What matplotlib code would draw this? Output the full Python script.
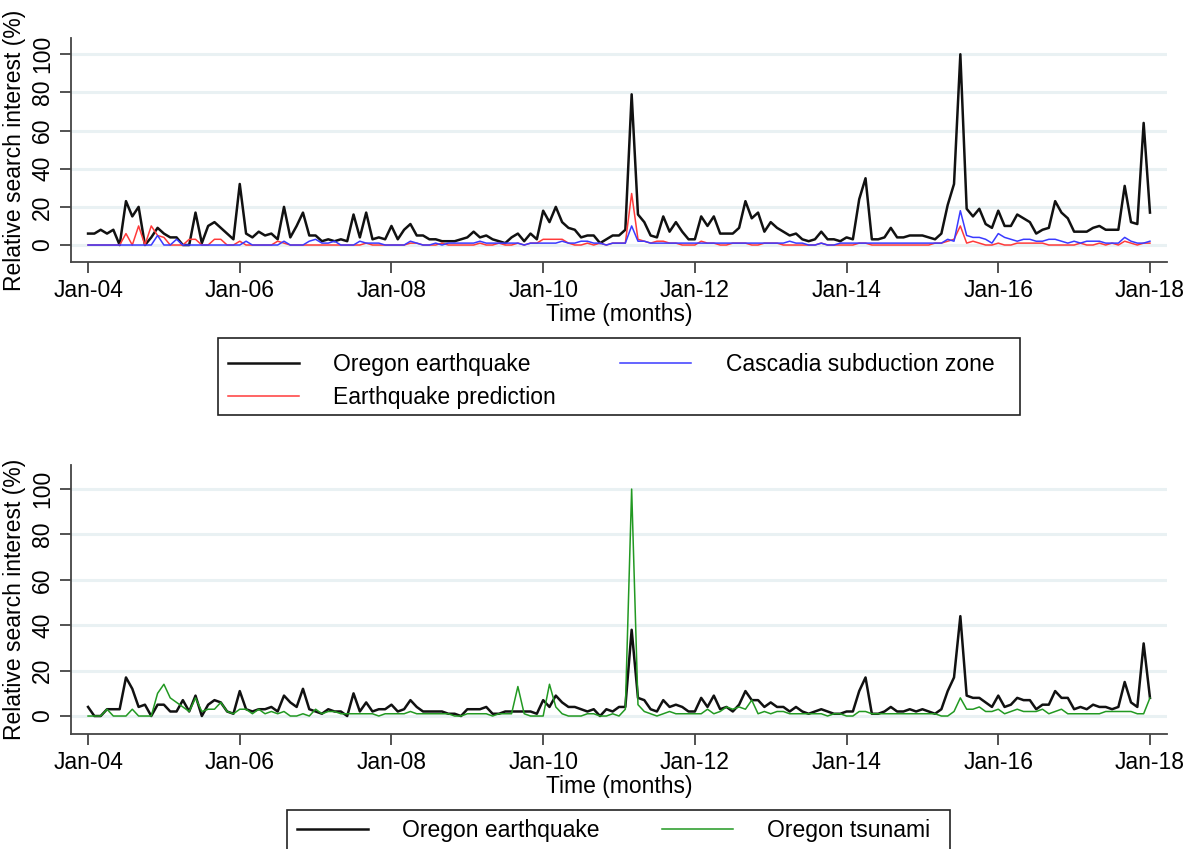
import matplotlib.pyplot as plt
from matplotlib.lines import Line2D
from matplotlib.patches import Rectangle

plt.rcParams['font.family'] = ['Liberation Sans', 'DejaVu Sans']
plt.rcParams['font.size'] = 16.5

# monthly search interest, Jan 2004 .. Jan 2018 (169 months)
months = list(range(169))
tick_pos = [0, 24, 48, 72, 96, 120, 144, 168]
tick_labels = ['Jan-04', 'Jan-06', 'Jan-08', 'Jan-10', 'Jan-12', 'Jan-14', 'Jan-16', 'Jan-18']
y_ticks = [0, 20, 40, 60, 80, 100]

# top panel
oregon_eq = [6, 6, 8, 6, 8, 0, 23, 15, 20, 0, 4, 9,
             6, 4, 4, 0, 0, 17, 1, 10, 12, 9, 6, 3,
             32, 6, 4, 7, 5, 6, 3, 20, 4, 10, 17, 5,
             5, 2, 3, 2, 3, 2, 16, 4, 17, 3, 4, 3,
             10, 3, 8, 11, 5, 5, 3, 3, 2, 2, 2, 3,
             4, 7, 4, 5, 3, 2, 1, 4, 6, 2, 6, 3,
             18, 12, 20, 12, 9, 8, 4, 5, 5, 1, 3, 5,
             5, 8, 79, 16, 12, 5, 4, 15, 7, 12, 7, 3,
             3, 15, 10, 15, 6, 6, 6, 9, 23, 14, 17, 7,
             12, 9, 7, 5, 6, 3, 2, 3, 7, 3, 3, 2,
             4, 3, 24, 35, 3, 3, 4, 9, 4, 4, 5, 5,
             5, 4, 3, 6, 21, 32, 100, 19, 15, 19, 11, 9,
             18, 10, 10, 16, 14, 12, 6, 8, 9, 23, 17, 14,
             7, 7, 7, 9, 10, 8, 8, 8, 31, 12, 11, 64,
             17]

cascadia = [0, 0, 0, 0, 0, 0, 0, 0, 0, 0, 0, 5,
            0, 0, 3, 0, 0, 0, 0, 0, 0, 0, 0, 0,
            0, 2, 0, 0, 0, 0, 0, 2, 0, 0, 0, 2,
            3, 1, 1, 2, 0, 0, 0, 2, 1, 1, 1, 0,
            0, 0, 0, 2, 1, 0, 0, 1, 0, 1, 1, 1,
            1, 1, 2, 1, 1, 1, 1, 1, 1, 0, 1, 1,
            1, 1, 1, 2, 1, 1, 2, 2, 1, 1, 0, 1,
            1, 1, 10, 2, 2, 1, 1, 1, 1, 1, 1, 1,
            1, 1, 1, 1, 1, 1, 1, 1, 1, 1, 1, 1,
            1, 1, 1, 2, 1, 1, 0, 0, 1, 0, 0, 1,
            1, 1, 1, 1, 1, 1, 1, 1, 1, 1, 1, 1,
            1, 1, 1, 1, 3, 2, 18, 5, 4, 4, 3, 1,
            6, 4, 3, 2, 3, 3, 2, 2, 3, 3, 2, 1,
            2, 1, 2, 2, 2, 1, 1, 1, 4, 2, 1, 1,
            2]

eq_prediction = [0, 0, 0, 0, 0, 0, 6, 0, 10, 0, 10, 5,
                 4, 0, 0, 0, 3, 3, 0, 0, 3, 3, 0, 0,
                 2, 0, 0, 0, 0, 0, 2, 1, 0, 0, 0, 0,
                 0, 0, 0, 0, 0, 0, 0, 0, 1, 0, 0, 0,
                 0, 0, 0, 1, 1, 0, 0, 0, 1, 0, 0, 0,
                 0, 0, 1, 0, 0, 1, 0, 0, 1, 0, 1, 1,
                 3, 3, 3, 3, 1, 0, 0, 1, 0, 1, 0, 1,
                 1, 1, 27, 3, 2, 1, 2, 2, 1, 1, 0, 0,
                 0, 2, 1, 1, 0, 0, 1, 1, 1, 0, 0, 1,
                 1, 1, 0, 0, 0, 0, 0, 0, 1, 0, 0, 0,
                 0, 0, 1, 1, 0, 0, 0, 0, 0, 0, 0, 0,
                 0, 0, 1, 1, 2, 3, 10, 1, 2, 1, 0, 0,
                 1, 0, 0, 1, 1, 1, 1, 1, 0, 0, 0, 0,
                 0, 1, 0, 0, 1, 0, 1, 0, 2, 1, 0, 1,
                 1]

# bottom panel
oregon_eq2 = [4, 0, 0, 3, 3, 3, 17, 12, 4, 5, 0, 5,
              5, 2, 2, 7, 2, 9, 0, 5, 7, 6, 2, 1,
              11, 3, 2, 3, 3, 4, 2, 9, 6, 4, 12, 3,
              2, 1, 3, 2, 2, 0, 10, 2, 6, 2, 3, 3,
              5, 2, 3, 7, 4, 2, 2, 2, 2, 1, 1, 0,
              3, 3, 3, 4, 1, 1, 2, 2, 2, 2, 2, 1,
              7, 4, 9, 6, 4, 4, 3, 2, 3, 0, 3, 2,
              4, 4, 38, 8, 7, 3, 2, 7, 4, 5, 4, 2,
              2, 8, 4, 9, 3, 4, 2, 5, 11, 7, 7, 4,
              6, 4, 4, 2, 4, 2, 1, 2, 3, 2, 1, 1,
              2, 2, 11, 17, 1, 1, 2, 4, 2, 2, 3, 2,
              3, 2, 1, 3, 11, 17, 44, 9, 8, 8, 6, 4,
              9, 4, 5, 8, 7, 7, 3, 5, 5, 11, 8, 8,
              3, 4, 3, 5, 4, 4, 3, 4, 15, 6, 4, 32,
              8]

oregon_tsunami = [0, 0, 0, 3, 0, 0, 0, 3, 0, 0, 0, 10,
                  14, 8, 6, 4, 2, 8, 2, 3, 3, 6, 2, 1,
                  3, 3, 1, 3, 1, 2, 1, 2, 0, 0, 1, 0,
                  3, 1, 2, 2, 1, 1, 1, 1, 1, 1, 0, 1,
                  1, 1, 1, 2, 1, 1, 1, 1, 1, 1, 0, 0,
                  1, 1, 1, 1, 0, 1, 1, 1, 13, 1, 0, 0,
                  0, 14, 4, 1, 0, 0, 0, 1, 1, 0, 0, 1,
                  0, 3, 100, 5, 2, 1, 0, 1, 2, 1, 1, 1,
                  1, 1, 3, 1, 2, 4, 3, 4, 3, 7, 1, 2,
                  1, 2, 2, 1, 1, 1, 1, 1, 1, 0, 1, 1,
                  0, 0, 2, 2, 1, 1, 1, 1, 1, 1, 1, 1,
                  1, 1, 1, 0, 0, 2, 8, 3, 3, 4, 2, 2,
                  3, 1, 2, 3, 2, 2, 2, 3, 1, 2, 3, 1,
                  1, 1, 1, 1, 1, 2, 2, 2, 2, 2, 1, 1,
                  8]

BLACK = '#111111'
BLUE = '#3a3aff'
RED = '#ff3a3a'
GREEN = '#229922'
AXIS = '#444444'
GRID = '#e9f1f3'
W, H = 1195, 849


def style_axes(ax, ylim):
    ax.set_xlim(-2.7, 170.7)
    ax.set_ylim(*ylim)
    for s in ['top', 'right']:
        ax.spines[s].set_visible(False)
    for s in ['left', 'bottom']:
        ax.spines[s].set_color(AXIS)
        ax.spines[s].set_linewidth(1.3)
    ax.set_xticks(tick_pos)
    ax.set_xticklabels(tick_labels)
    ax.set_yticks(y_ticks)
    ax.set_yticklabels([str(v) for v in y_ticks], rotation=90, va='center')
    ax.tick_params(direction='out', length=8, width=1.3, color=AXIS, pad=4)
    ax.yaxis.grid(True, color=GRID, linewidth=2.2)
    ax.set_axisbelow(True)
    ax.set_xlabel('Time (months)', labelpad=1)
    ax.set_ylabel('Relative search interest (%)', labelpad=4)


def legend_box(x0, y0, x1, y1):
    # frame drawn in pixel units, measured from the top-left corner
    fig.patches.append(Rectangle((x0 / W, 1 - y1 / H), (x1 - x0) / W, (y1 - y0) / H,
                                 transform=fig.transFigure, fill=False,
                                 edgecolor='#222222', linewidth=1.2))


fig = plt.figure(figsize=(11.95, 8.49), dpi=100)

# top panel: earthquake related searches
ax1 = fig.add_axes([0.0594, 0.6914, 0.9172, 0.2638])
ax1.plot(months, eq_prediction, color=RED, lw=1.1, zorder=3)
ax1.plot(months, cascadia, color=BLUE, lw=1.1, zorder=3)
ax1.plot(months, oregon_eq, color=BLACK, lw=1.8, zorder=2)
style_axes(ax1, (-8.9, 108.5))

h1 = [Line2D([], [], color=BLACK, lw=1.8),
      Line2D([], [], color=RED, lw=1.1),
      Line2D([], [], color=BLUE, lw=1.1)]
l1 = ['Oregon earthquake', 'Earthquake prediction', 'Cascadia subduction zone']
fig.legend(h1, l1, loc='upper left', ncol=2, bbox_to_anchor=(228 / W, 1 - 353 / H),
           frameon=False, borderpad=0, borderaxespad=0, labelspacing=0.45,
           handlelength=3.1, handletextpad=1.5, columnspacing=2.8)
legend_box(218, 338, 1020, 415)

# bottom panel: earthquake vs tsunami
ax2 = fig.add_axes([0.0594, 0.1355, 0.9172, 0.3168])
ax2.plot(months, oregon_tsunami, color=GREEN, lw=1.1, zorder=3)
ax2.plot(months, oregon_eq2, color=BLACK, lw=1.8, zorder=2)
style_axes(ax2, (-7.9, 110.6))

h2 = [Line2D([], [], color=BLACK, lw=1.8), Line2D([], [], color=GREEN, lw=1.1)]
l2 = ['Oregon earthquake', 'Oregon tsunami']
fig.legend(h2, l2, loc='upper left', ncol=2, bbox_to_anchor=(297 / W, 1 - 819 / H),
           frameon=False, borderpad=0, borderaxespad=0,
           handlelength=3.1, handletextpad=1.5, columnspacing=2.7)
legend_box(287, 810, 950, 856)

fig.savefig('out.png', dpi=100)
